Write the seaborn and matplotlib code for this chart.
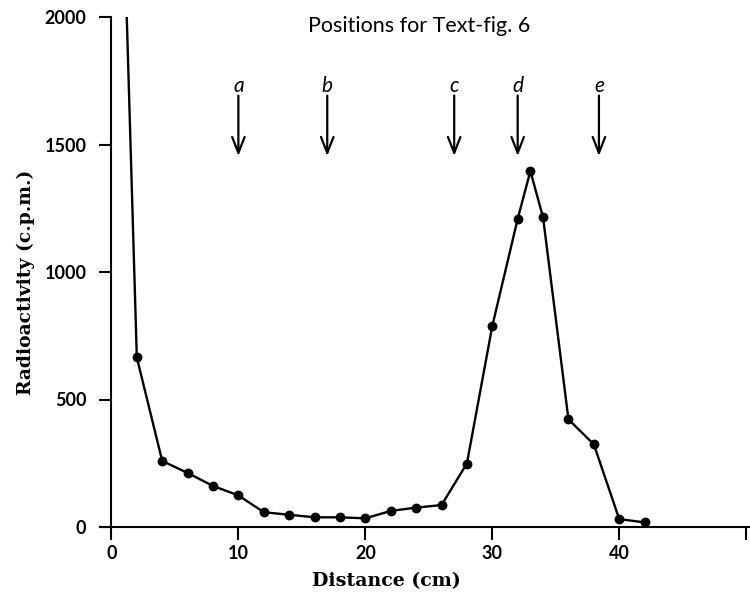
import matplotlib
matplotlib.use("Agg")
import matplotlib.pyplot as plt
import seaborn as sns
import pandas as pd

# Data
distance = [1, 2, 4, 6, 8, 10, 12, 14, 16, 18, 20, 22, 24, 26, 28, 30, 32, 33, 34, 36, 38, 40, 42]
activity = [2350, 665, 259, 212, 161, 124, 58, 48, 38, 38, 34, 63, 76, 86, 249, 788, 1208, 1396, 1214, 422, 324, 31, 18]

arrow_labels = ["a", "b", "c", "d", "e"]
arrow_positions = [10, 17, 27, 32, 38.4]

x_ticks = [0, 10, 20, 30, 40, 50]
x_tick_labels = ["0", "10", "20", "30", "40", ""]
y_ticks = [0, 500, 1000, 1500, 2000]

df = pd.DataFrame({"distance": distance, "activity": activity})

sns.set_style("ticks")
plt.rcParams["font.family"] = ["Lato", "DejaVu Sans"]

fig = plt.figure(figsize=(7.5, 5.95), dpi=100)
ax = fig.add_axes([100 / 750, 68 / 595, 650 / 750, 510 / 595])

sns.lineplot(data=df, x="distance", y="activity", ax=ax, color="black",
             linewidth=1.7, sort=False, estimator=None)
sns.scatterplot(data=df.iloc[1:], x="distance", y="activity", ax=ax,
                color="black", s=50, edgecolor="black", linewidth=0, zorder=3)

ax.set_xlim(-0.9, 50.3)
ax.set_ylim(0, 2000)
ax.spines["left"].set_position(("data", 0))
ax.spines["left"].set_bounds(0, 2000)
for s in ["top", "right"]:
    ax.spines[s].set_visible(False)
for s in ["left", "bottom"]:
    ax.spines[s].set_linewidth(1.5)
    ax.spines[s].set_color("black")

ax.set_xticks(x_ticks)
ax.set_xticklabels(x_tick_labels)
ax.set_yticks(y_ticks)
ax.tick_params(axis="both", direction="out", length=9, width=1.5,
               labelsize=13, colors="black")
ax.tick_params(axis="y", pad=9)
ax.tick_params(axis="x", pad=4)
for lbl in ax.get_xticklabels() + ax.get_yticklabels():
    lbl.set_fontweight("bold")

ax.set_xlabel("Distance (cm)", family="DejaVu Serif", fontsize=13.7,
              fontweight="bold", color="black")
ax.set_ylabel("Radioactivity (c.p.m.)", family="DejaVu Serif", fontsize=13.5,
              fontweight="bold", color="black")
ax.xaxis.set_label_coords(0.44, -0.088)
ax.yaxis.set_label_coords(-0.1, 0.48)

ax.text(0.491, 0.971, "Positions for Text-fig. 6", transform=ax.transAxes,
        ha="center", va="baseline", fontsize=15.5, color="black")

for lab, xp in zip(arrow_labels, arrow_positions):
    ax.annotate("", xy=(xp, 1455), xytext=(xp, 1692),
                arrowprops=dict(arrowstyle="->,head_length=1.15,head_width=0.45",
                                color="black", lw=1.6, mutation_scale=10,
                                shrinkA=0, shrinkB=0))
    ax.text(xp, 1705, lab, ha="center", va="baseline", fontsize=15,
            style="italic", color="black")

fig.savefig("out.png", dpi=100)
